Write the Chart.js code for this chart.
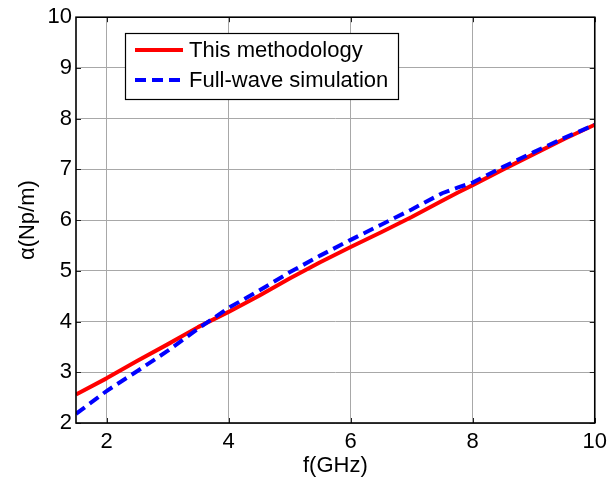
<!DOCTYPE html>
<html>
<head>
<meta charset="utf-8">
<script src="https://cdn.jsdelivr.net/npm/chart.js@4/dist/chart.umd.min.js"></script>
<style>
  html, body { margin: 0; padding: 0; background: #fff; }
  #wrap { width: 613px; height: 483px; }
</style>
</head>
<body>
<div id="wrap"><canvas id="c" width="613" height="483"></canvas></div>
<script>
// Attenuation constant versus frequency
const freqGHz      = [1.5, 2.0, 2.5, 3.0, 3.5, 4.0, 4.5, 5.0, 5.5, 6.0, 6.5, 7.0, 7.5, 7.75, 8.0, 8.5, 9.0, 9.5, 10.0];
const methodAlpha  = [2.56, 2.88, 3.22, 3.55, 3.89, 4.19, 4.51, 4.85, 5.17, 5.47, 5.76, 6.06, 6.38, 6.54, 6.69, 7.00, 7.30, 7.60, 7.88];
const fullWaveAlpha= [2.18, 2.63, 3.02, 3.42, 3.86, 4.27, 4.61, 4.97, 5.30, 5.61, 5.91, 6.21, 6.53, 6.64, 6.74, 7.05, 7.34, 7.62, 7.88];
const xTicks = [2, 4, 6, 8, 10];
const yTicks = [2, 3, 4, 5, 6, 7, 8, 9, 10];
const seriesNames = ['This methodology', 'Full-wave simulation'];

const FONT = '"Liberation Sans", Arial, sans-serif';
const pts = ys => freqGHz.map((f, i) => ({ x: f, y: ys[i] }));

// Box frame, inward tick marks and the legend panel
const framePlugin = {
  id: 'frame',
  afterDatasetsDraw(chart) {
    const { ctx, chartArea: a, scales } = chart;
    ctx.save();
    ctx.strokeStyle = '#222';
    ctx.lineWidth = 1;
    const tl = 5;
    ctx.beginPath();
    xTicks.forEach(v => {
      const px = Math.round(scales.x.getPixelForValue(v)) + 0.5;
      ctx.moveTo(px, a.bottom); ctx.lineTo(px, a.bottom - tl);
      ctx.moveTo(px, a.top); ctx.lineTo(px, a.top + tl);
    });
    yTicks.forEach(v => {
      const py = Math.round(scales.y.getPixelForValue(v)) + 0.5;
      ctx.moveTo(a.left, py); ctx.lineTo(a.left + tl, py);
      ctx.moveTo(a.right, py); ctx.lineTo(a.right - tl, py);
    });
    ctx.stroke();
    ctx.strokeStyle = '#000';
    ctx.lineWidth = 1.6;
    ctx.strokeRect(a.left, a.top, a.right - a.left, a.bottom - a.top);

    // legend
    const lx = 125, ly = 33, lw = 273, lh = 66;
    ctx.fillStyle = '#fff';
    ctx.fillRect(lx, ly, lw, lh);
    ctx.strokeStyle = '#000';
    ctx.lineWidth = 1.2;
    ctx.strokeRect(lx + 0.5, ly + 0.5, lw, lh);
    const ds = chart.data.datasets;
    const rows = [ds.find(d => d.label === seriesNames[0]), ds.find(d => d.label === seriesNames[1])];
    rows.forEach((d, i) => {
      const cy = ly + 17 + i * 30;
      ctx.beginPath();
      ctx.strokeStyle = d.borderColor;
      ctx.lineWidth = d.borderWidth;
      ctx.setLineDash(d.borderDash || []);
      ctx.moveTo(135, cy); ctx.lineTo(183, cy);
      ctx.stroke();
      ctx.setLineDash([]);
      ctx.fillStyle = '#000';
      ctx.font = '22px ' + FONT;
      ctx.textBaseline = 'middle';
      ctx.textAlign = 'left';
      ctx.fillText(d.label, 189, cy + 1);
    });
    ctx.restore();
  }
};

new Chart(document.getElementById('c'), {
  type: 'line',
  data: {
    datasets: [
      { label: seriesNames[0], data: pts(methodAlpha), borderColor: '#ff0000', borderWidth: 4,
        pointRadius: 0, tension: 0, order: 2, borderJoinStyle: 'round' },
      { label: seriesNames[1], data: pts(fullWaveAlpha), borderColor: '#0000ff', borderWidth: 4,
        borderDash: [11, 6], pointRadius: 0, tension: 0, order: 1 }
    ]
  },
  options: {
    responsive: false,
    animation: false,
    devicePixelRatio: 1,
    layout: { padding: { top: 15, right: 16, left: 0, bottom: 0 } },
    plugins: { legend: { display: false }, tooltip: { enabled: false } },
    scales: {
      x: {
        type: 'linear', min: 1.5, max: 10,
        afterBuildTicks: s => { s.ticks = xTicks.map(v => ({ value: v })); },
        afterFit: s => { s.height = 60; },
        grid: { color: '#a8a8a8', lineWidth: 1, drawTicks: false },
        border: { display: false },
        ticks: { color: '#000', font: { family: FONT, size: 22 }, padding: 6, maxRotation: 0 },
        title: { display: true, text: 'f(GHz)', color: '#000',
                 font: { family: FONT, size: 22, lineHeight: 1 }, padding: { top: 0, bottom: 6 } }
      },
      y: {
        type: 'linear', min: 2, max: 10,
        afterBuildTicks: s => { s.ticks = yTicks.map(v => ({ value: v })); },
        afterFit: s => { s.width = 76; },
        grid: { color: '#a8a8a8', lineWidth: 1, drawTicks: false },
        border: { display: false },
        ticks: { color: '#000', font: { family: FONT, size: 22 }, padding: 4 },
        title: { display: true, text: 'α(Np/m)', color: '#000',
                 font: { family: FONT, size: 22, lineHeight: 1 }, padding: { top: 17, bottom: 0 } }
      }
    }
  },
  plugins: [framePlugin]
});
</script>
</body>
</html>
